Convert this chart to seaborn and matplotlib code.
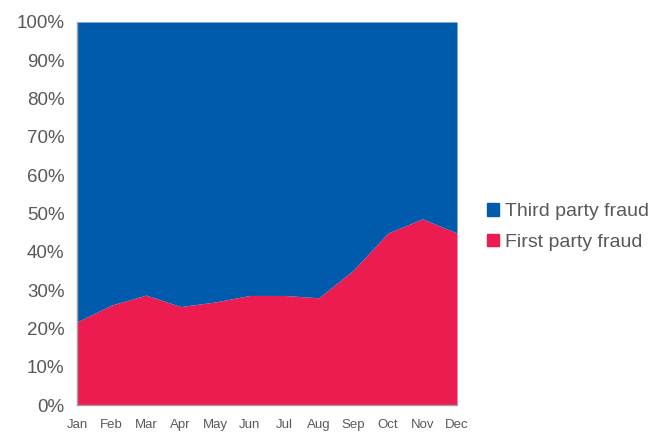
import matplotlib
matplotlib.use("Agg")
import matplotlib.pyplot as plt
import seaborn as sns
import numpy as np
from matplotlib.patches import Patch

months = ["Jan", "Feb", "Mar", "Apr", "May", "Jun", "Jul", "Aug", "Sep", "Oct", "Nov", "Dec"]
first_party = [21.7, 26.1, 28.7, 25.7, 26.9, 28.6, 28.6, 28.0, 35.2, 44.9, 48.6, 44.9]
third_party = [100 - v for v in first_party]
y_ticks = [0, 10, 20, 30, 40, 50, 60, 70, 80, 90, 100]

sns.set_style("white")
plt.rcParams['font.family'] = ['Liberation Sans', 'DejaVu Sans']

blue = "#005BAC"
red = "#EC1C51"
gray = "#595959"

fig = plt.figure(figsize=(6.51, 4.33), dpi=100)
ax = fig.add_axes([77/651, 1-405/433, (457-77)/651, (405-22)/433])

x = np.arange(len(months))
ax.stackplot(x, first_party, third_party, colors=[red, blue], linewidth=0)

ax.set_xlim(0, len(months) - 1)
ax.set_ylim(0, 100)
ax.set_yticks(y_ticks)
ax.set_yticklabels([f"{t}%" for t in y_ticks], fontsize=13.5, color=gray)
ax.set_xticks(x)
ax.set_xticklabels(months, fontsize=9.5, color=gray)
ax.tick_params(axis='y', length=4, color="#A0A0A0", width=1, pad=5)
ax.tick_params(axis='x', length=4, color="#A0A0A0", width=1, pad=6)
sns.despine(ax=ax, top=True, right=True)
for s in ["left", "bottom"]:
    ax.spines[s].set_color("#A0A0A0")
    ax.spines[s].set_linewidth(1)

handles = [Patch(color=blue, label="Third party fraud"), Patch(color=red, label="First party fraud")]
fig.legend(handles=handles, loc="center left", bbox_to_anchor=(483/651, 1-227/433),
           frameon=False, fontsize=14, labelcolor=gray, handlelength=0.6, handleheight=0.6,
           handletextpad=0.35, labelspacing=0.7, borderaxespad=0, borderpad=0.2)

fig.savefig("out.png", dpi=100)
